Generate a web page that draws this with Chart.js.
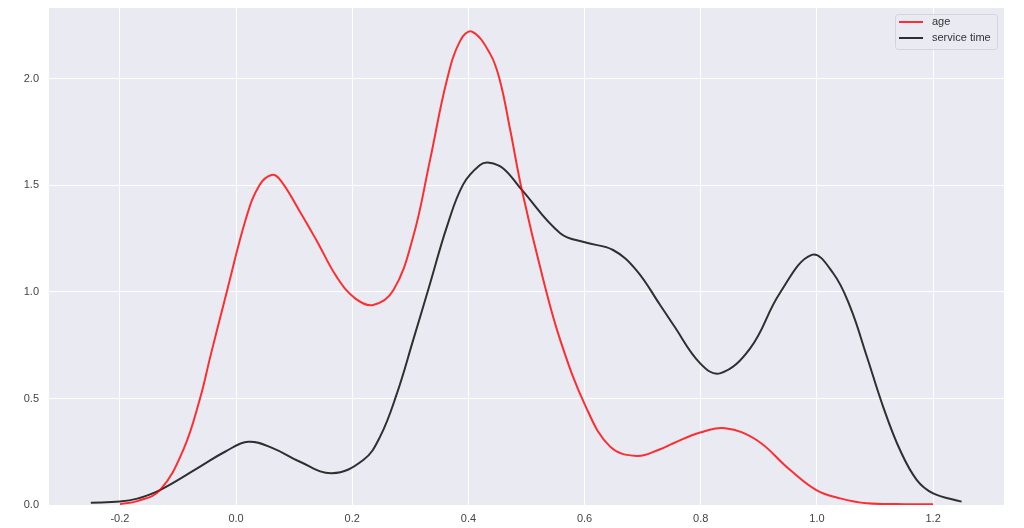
<!DOCTYPE html>
<html>
<head>
<meta charset="utf-8">
<script src="https://cdn.jsdelivr.net/npm/chart.js@4"></script>
<style>
  html, body { margin: 0; padding: 0; background: #fff; }
  #wrap { width: 1024px; height: 528px; }
</style>
</head>
<body>
<div id="wrap"><canvas id="kdeChart" width="1024" height="528"></canvas></div>
<script>
// density curves
const ageX = [-0.20, -0.17, -0.131, -0.091, -0.062, -0.044, -0.016, 0.018, 0.040, 0.061, 0.076, 0.110, 0.140, 0.173, 0.205, 0.236, 0.271, 0.305, 0.334, 0.363, 0.386, 0.406, 0.437, 0.454, 0.472, 0.492, 0.529, 0.558, 0.602, 0.644, 0.690, 0.730, 0.753, 0.799, 0.842, 0.896, 0.954, 0.999, 1.040, 1.086, 1.15, 1.20];
const ageY = [0.004, 0.018, 0.07, 0.258, 0.50, 0.70, 1.0, 1.353, 1.50, 1.549, 1.526, 1.377, 1.235, 1.072, 0.97, 0.939, 1.009, 1.26, 1.62, 1.995, 2.18, 2.222, 2.12, 1.995, 1.76, 1.479, 1.056, 0.775, 0.462, 0.274, 0.230, 0.262, 0.290, 0.340, 0.360, 0.305, 0.164, 0.070, 0.031, 0.008, 0.004, 0.003];

const serviceX = [-0.25, -0.20, -0.17, -0.131, -0.062, -0.019, 0.021, 0.064, 0.110, 0.165, 0.219, 0.248, 0.277, 0.305, 0.334, 0.363, 0.391, 0.420, 0.436, 0.460, 0.492, 0.558, 0.602, 0.649, 0.689, 0.730, 0.753, 0.799, 0.833, 0.885, 0.936, 0.991, 1.028, 1.057, 1.086, 1.114, 1.143, 1.172, 1.200, 1.249];
const serviceY = [0.011, 0.016, 0.03, 0.07, 0.18, 0.25, 0.297, 0.266, 0.203, 0.149, 0.211, 0.321, 0.524, 0.775, 1.04, 1.307, 1.505, 1.596, 1.607, 1.58, 1.479, 1.276, 1.232, 1.197, 1.103, 0.939, 0.845, 0.665, 0.618, 0.735, 0.994, 1.174, 1.088, 0.931, 0.696, 0.461, 0.258, 0.117, 0.055, 0.016];

const xTicks = [-0.2, 0.0, 0.2, 0.4, 0.6, 0.8, 1.0, 1.2];
const yTicks = [0.0, 0.5, 1.0, 1.5, 2.0];
const seriesNames = ["age", "service time"];

const toPoints = (xs, ys) => xs.map((x, i) => ({ x: x, y: ys[i] }));

// grey plot background like seaborn darkgrid
const plotBg = {
  id: "plotBg",
  beforeDraw(chart) {
    const a = chart.chartArea;
    const ctx = chart.ctx;
    ctx.save();
    ctx.fillStyle = "#EAEAF2";
    ctx.fillRect(a.left, a.top, a.right - a.left, a.bottom - a.top);
    ctx.restore();
  }
};

// legend box in the top right corner of the plot
const cornerLegend = {
  id: "cornerLegend",
  afterDraw(chart) {
    const ctx = chart.ctx;
    const a = chart.chartArea;
    const boxW = 102, boxH = 35;
    const bx = a.right - 7 - boxW, by = a.top + 6;
    ctx.save();
    ctx.fillStyle = "rgba(234,234,242,0.9)";
    ctx.strokeStyle = "#d4d4dc";
    ctx.lineWidth = 1;
    ctx.beginPath();
    ctx.roundRect(bx + 0.5, by + 0.5, boxW, boxH, 3);
    ctx.fill();
    ctx.stroke();
    ctx.font = "11px 'Liberation Sans', Arial, sans-serif";
    ctx.textBaseline = "middle";
    chart.data.datasets.forEach((ds, i) => {
      const y = by + 8 + i * 16;
      ctx.strokeStyle = ds.borderColor;
      ctx.lineWidth = 2;
      ctx.beginPath();
      ctx.moveTo(bx + 4, y);
      ctx.lineTo(bx + 28, y);
      ctx.stroke();
      ctx.fillStyle = "#333";
      ctx.fillText(ds.label, bx + 37, y);
    });
    ctx.restore();
  }
};

new Chart(document.getElementById("kdeChart"), {
  type: "line",
  data: {
    datasets: [
      {
        label: seriesNames[0],
        data: toPoints(ageX, ageY),
        borderColor: "rgba(255, 0, 0, 0.8)",
        borderWidth: 2,
        pointRadius: 0,
        tension: 0.4,
        fill: false
      },
      {
        label: seriesNames[1],
        data: toPoints(serviceX, serviceY),
        borderColor: "rgba(0, 0, 0, 0.8)",
        borderWidth: 2,
        pointRadius: 0,
        tension: 0.4,
        fill: false
      }
    ]
  },
  options: {
    responsive: false,
    animation: false,
    layout: { padding: { top: 8, right: 20, bottom: 0, left: 0 } },
    plugins: {
      legend: { display: false },
      tooltip: { enabled: false }
    },
    scales: {
      x: {
        type: "linear",
        min: -0.322,
        max: 1.322,
        afterBuildTicks: (s) => { s.ticks = xTicks.map(v => ({ value: v })); },
        afterFit: (s) => { s.height = 23; },
        grid: { color: "#ffffff", lineWidth: 1, drawTicks: false },
        border: { display: false },
        ticks: {
          padding: 7,
          color: "#444",
          font: { family: "'Liberation Sans', Arial, sans-serif", size: 11 },
          callback: (v) => v.toFixed(1)
        }
      },
      y: {
        type: "linear",
        min: 0,
        max: 2.333,
        afterBuildTicks: (s) => { s.ticks = yTicks.map(v => ({ value: v })); },
        afterFit: (s) => { s.width = 49; s.paddingTop = 0; },
        grid: { color: "#ffffff", lineWidth: 1, drawTicks: false },
        border: { display: false },
        ticks: {
          padding: 10,
          color: "#444",
          font: { family: "'Liberation Sans', Arial, sans-serif", size: 11 },
          callback: (v) => v.toFixed(1)
        }
      }
    }
  },
  plugins: [plotBg, cornerLegend]
});
</script>
</body>
</html>
